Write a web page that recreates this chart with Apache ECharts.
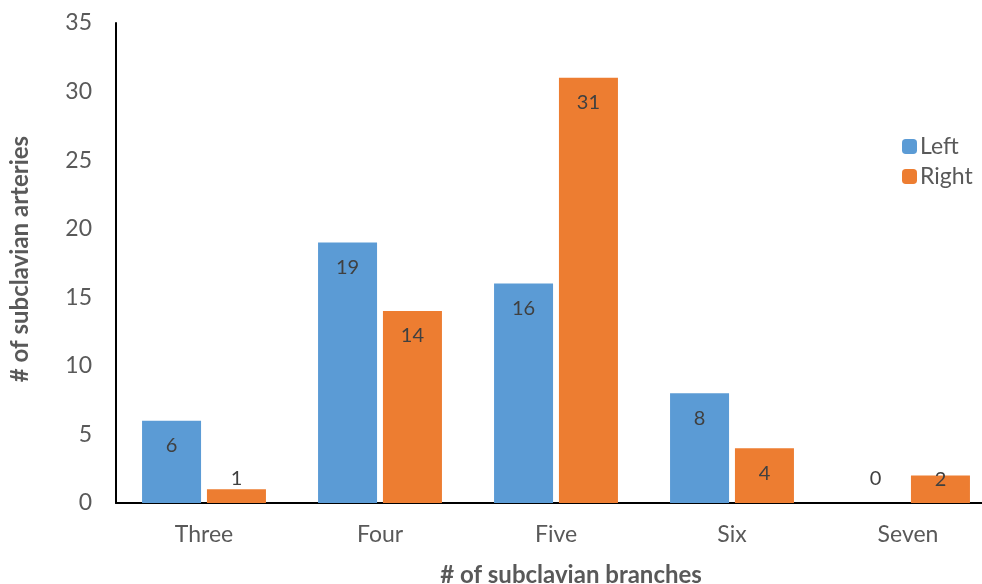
<!DOCTYPE html>
<html>
<head>
<meta charset="utf-8">
<script src="https://cdn.jsdelivr.net/npm/echarts@6/dist/echarts.min.js"></script>
<style>
  html, body { margin: 0; padding: 0; background: #fff; }
  #chart { width: 982px; height: 584px; }
</style>
</head>
<body>
<div id="chart"></div>
<script>
// Number of branches per subclavian artery, left vs right side
var categories = ['Three', 'Four', 'Five', 'Six', 'Seven'];
var leftValues = [6, 19, 16, 8, 0];
var rightValues = [1, 14, 31, 4, 2];
var yTicks = { min: 0, max: 35, interval: 5 };

var FONT = 'Lato, "Open Sans", sans-serif';

// Short bars cannot hold their label below the top edge, so it moves up
function withLabels(values) {
  return values.map(function (v) {
    if (v === 0) return { value: v, label: { position: 'top', distance: 14 } };
    if (v === 1) return { value: v, label: { position: 'top', distance: 1 } };
    if (v === 2) return { value: v, label: { position: 'insideTop', distance: -6 } };
    return { value: v };
  });
}

var chart = echarts.init(document.getElementById('chart'));
chart.setOption({
  animation: false,
  textStyle: { fontFamily: FONT },
  // the category band runs past the right edge of the canvas
  grid: { left: 116, top: 23, width: 880, height: 480, containLabel: false, outerBoundsMode: 'none' },
  legend: {
    orient: 'vertical',
    left: 897,
    top: 130,
    itemWidth: 15,
    itemHeight: 15,
    itemGap: 7,
    textStyle: { fontFamily: FONT, fontSize: 23, lineHeight: 23, color: '#595959', padding: [0, 0, 0, -2] },
    data: ['Left', 'Right']
  },
  xAxis: {
    type: 'category',
    data: categories,
    name: '# of subclavian branches',
    nameLocation: 'middle',
    nameGap: 60,
    nameTextStyle: { fontFamily: FONT, fontSize: 24, fontWeight: 'bold', color: '#595959', padding: [0, 0, 0, 30] },
    axisLine: { lineStyle: { color: '#000', width: 2 } },
    axisTick: { show: false },
    axisLabel: { fontFamily: FONT, fontSize: 23, color: '#595959', margin: 20 }
  },
  yAxis: {
    type: 'value',
    min: yTicks.min,
    max: yTicks.max,
    interval: yTicks.interval,
    name: '# of subclavian arteries',
    nameLocation: 'middle',
    nameGap: 84,
    nameTextStyle: { fontFamily: FONT, fontSize: 24, fontWeight: 'bold', color: '#595959', padding: [0, 0, 0, 8] },
    axisLine: { show: true, lineStyle: { color: '#000', width: 2 } },
    axisTick: { show: false },
    splitLine: { show: false },
    axisLabel: { fontFamily: FONT, fontSize: 23, color: '#595959', margin: 24 }
  },
  series: [
    {
      name: 'Left',
      type: 'bar',
      data: withLabels(leftValues),
      barWidth: 59,
      barGap: '10%',
      itemStyle: { color: '#5B9BD5' },
      label: { show: true, position: 'insideTop', distance: 15, fontFamily: FONT, fontSize: 20, color: '#404040' }
    },
    {
      name: 'Right',
      type: 'bar',
      data: withLabels(rightValues),
      barWidth: 59,
      barGap: '10%',
      itemStyle: { color: '#ED7D31' },
      label: { show: true, position: 'insideTop', distance: 15, fontFamily: FONT, fontSize: 20, color: '#404040' }
    }
  ]
});
</script>
</body>
</html>
